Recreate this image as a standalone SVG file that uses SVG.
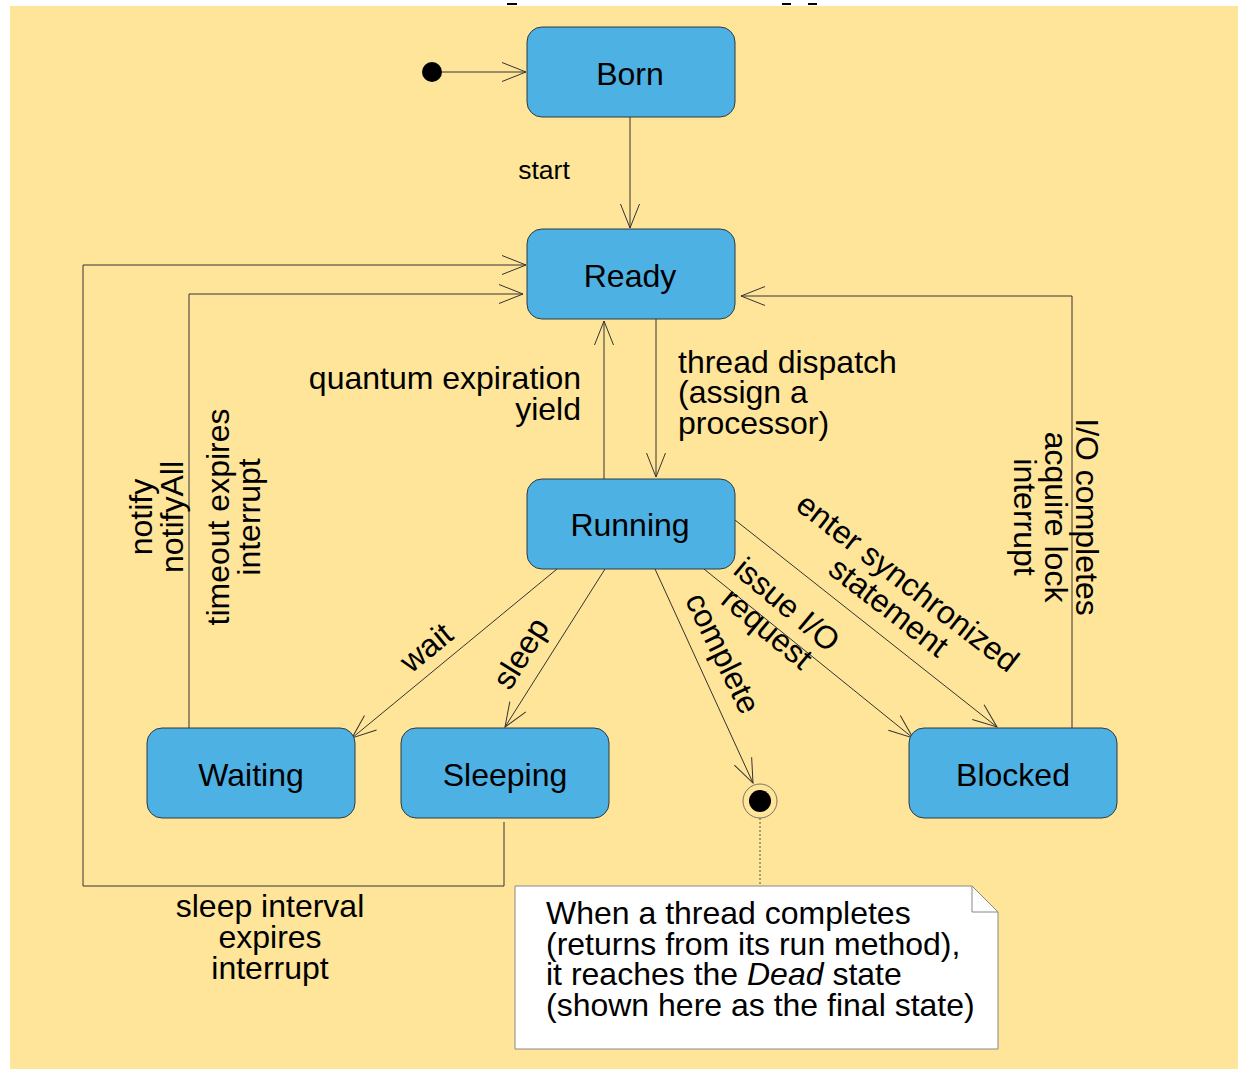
<svg xmlns="http://www.w3.org/2000/svg" width="1238" height="1069" viewBox="0 0 1238 1069">
<style>
.node{fill:#4DB1E4;stroke:#2d3a40;stroke-width:1}
.t{font-family:"Liberation Sans",Arial,sans-serif;font-size:32px;fill:#000}
.c{text-anchor:middle}
.e{text-anchor:end}
.edge{fill:none;stroke:#333;stroke-width:1}
</style>
<defs>
<marker id="arr" viewBox="-26 -11 28 22" markerWidth="28" markerHeight="22" refX="0" refY="0" orient="auto" markerUnits="userSpaceOnUse">
<path d="M-24,-9.5 L0,0 L-24,9.5" fill="none" stroke="#333" stroke-width="1"/>
</marker>
</defs>
<rect x="0" y="0" width="1238" height="1069" fill="#fff"/>
<rect x="10" y="6" width="1228" height="1063" fill="#FFE599"/>
<rect x="507" y="3" width="10" height="2" fill="#000"/>
<rect x="782" y="3" width="9" height="2" fill="#000"/>
<rect x="808" y="3" width="9" height="2" fill="#000"/>

<g id="connectors">
<line class="edge" x1="442" y1="72" x2="526" y2="72" marker-end="url(#arr)"/>
<line class="edge" x1="630" y1="117" x2="630" y2="228" marker-end="url(#arr)"/>
<line class="edge" x1="656" y1="319" x2="656" y2="477" marker-end="url(#arr)"/>
<line class="edge" x1="604" y1="479" x2="604" y2="321" marker-end="url(#arr)"/>
<polyline class="edge" points="189,728 189,294 523,294" marker-end="url(#arr)"/>
<polyline class="edge" points="504,822 504,886 83,886 83,265 526,265" marker-end="url(#arr)"/>
<polyline class="edge" points="1072,728 1072,296 741,296" marker-end="url(#arr)"/>
<line class="edge" x1="557" y1="569" x2="352" y2="738" marker-end="url(#arr)"/>
<line class="edge" x1="605" y1="569" x2="505" y2="727" marker-end="url(#arr)"/>
<line class="edge" x1="655" y1="569" x2="753" y2="783" marker-end="url(#arr)"/>
<line class="edge" x1="704" y1="569" x2="913" y2="738" marker-end="url(#arr)"/>
<line class="edge" x1="735" y1="520" x2="997" y2="727" marker-end="url(#arr)"/>
<line x1="760" y1="818" x2="760" y2="886" stroke="#555" stroke-width="1" stroke-dasharray="2,2"/>

<text class="t" x="544" y="179" text-anchor="middle" style="font-size:26.5px">start</text>
<text class="t e" x="581" y="389">quantum expiration</text>
<text class="t e" x="581" y="420">yield</text>
<text class="t" x="678" y="373">thread dispatch</text>
<text class="t" x="678" y="403">(assign a</text>
<text class="t" x="678" y="434">processor)</text>
<g transform="translate(152,517) rotate(-90)">
<text class="t c" x="0" y="0">notify</text>
<text class="t c" x="0" y="31">notifyAll</text>
</g>
<g transform="translate(229,517) rotate(-90)">
<text class="t c" x="0" y="0">timeout expires</text>
<text class="t c" x="0" y="31">interrupt</text>
</g>
<g transform="translate(1076,517) rotate(90)">
<text class="t c" x="0" y="0">I/O completes</text>
<text class="t c" x="0" y="31">acquire lock</text>
<text class="t c" x="0" y="62">interrupt</text>
</g>
<text class="t c" transform="translate(433,656) rotate(-39.3)">wait</text>
<text class="t c" transform="translate(530,659) rotate(-58.2)">sleep</text>
<text class="t c" transform="translate(713,658) rotate(64)">complete</text>
<g transform="translate(780,613) rotate(40)">
<text class="t c" x="0" y="0">issue I/O</text>
<text class="t c" x="0" y="31">request</text>
</g>
<g transform="translate(901,591) rotate(37.6)">
<text class="t c" x="0" y="0">enter synchronized</text>
<text class="t c" x="0" y="31">statement</text>
</g>
<text class="t c" x="270" y="917">sleep interval</text>
<text class="t c" x="270" y="948">expires</text>
<text class="t c" x="270" y="979">interrupt</text>
</g>

<g id="initial"><circle cx="432" cy="72" r="10" fill="#000"/></g>
<g id="born"><rect class="node" x="527" y="27" width="208" height="90" rx="15"/><text class="t c" x="630" y="85">Born</text></g>
<g id="ready"><rect class="node" x="527" y="229" width="208" height="90" rx="15"/><text class="t c" x="630" y="287">Ready</text></g>
<g id="running"><rect class="node" x="527" y="479" width="208" height="90" rx="15"/><text class="t c" x="630" y="536">Running</text></g>
<g id="waiting"><rect class="node" x="147" y="728" width="208" height="90" rx="15"/><text class="t c" x="251" y="786">Waiting</text></g>
<g id="sleeping"><rect class="node" x="401" y="728" width="208" height="90" rx="15"/><text class="t c" x="505" y="786">Sleeping</text></g>
<g id="blocked"><rect class="node" x="909" y="728" width="208" height="90" rx="15"/><text class="t c" x="1013" y="786">Blocked</text></g>
<g id="final"><circle cx="760" cy="801" r="17" fill="none" stroke="#555" stroke-width="0.8"/><circle cx="760" cy="801" r="11" fill="#000"/></g>
<g id="note">
<path d="M515,886 L972,886 L998,912 L998,1049 L515,1049 Z" fill="#fff" stroke="#888" stroke-width="1"/>
<path d="M972,886 L972,912 L998,912" fill="none" stroke="#888" stroke-width="1"/>
<text class="t" x="546" y="924">When a thread completes</text>
<text class="t" x="546" y="955">(returns from its run method),</text>
<text class="t" x="546" y="985">it reaches the <tspan font-style="italic">Dead</tspan> state</text>
<text class="t" x="546" y="1016">(shown here as the final state)</text>
</g>
</svg>
